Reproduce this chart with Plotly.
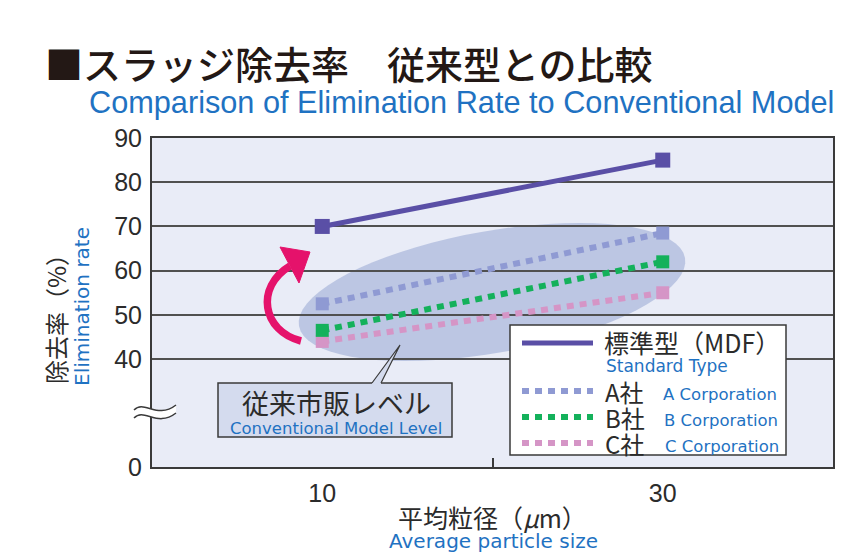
import math
import plotly.graph_objects as go

# ---------------- data ----------------
PARTICLE_SIZE = [10, 30]          # average particle size (µm)
MDF = [70, 85]                    # 標準型 (MDF)
CORP_A = [52.5, 68.5]             # A社
CORP_B = [46.5, 62]               # B社
CORP_C = [44, 55]                 # C社
X_TICK_VALUES = [10, 30]
X_TICK_LABELS = ["10", "30"]
Y_TICK_VALUES = [15.6, 40, 50, 60, 70, 80, 90]   # "0" sits below an axis break
Y_TICK_LABELS = ["0", "40", "50", "60", "70", "80", "90"]

# ---------------- styles ----------------
PURPLE = "#5a4fa6"
C_A = "#8f9ad3"
C_B = "#14b15b"
C_C = "#d595c6"
BLUE = "#1f72c2"
DARK = "#2b2b2b"
LINE = "#3a3a3a"
JP = "Noto Sans CJK JP"
EN = "Liberation Sans, Arial, sans-serif"
SM = "DejaVu Sans, sans-serif"
DASH = "7px,6px"

# window geometry (page body has an 8px margin)
OFF = 8
WIN_W, WIN_H = 868, 555
PLOT_L, PLOT_R, PLOT_T, PLOT_B = 152, 833, 138, 467   # plot area in window pixels
W, H = WIN_W - OFF, WIN_H - OFF
L = PLOT_L - OFF
T = PLOT_T - OFF
R = W - (PLOT_R - OFF)
B = H - (PLOT_B - OFF)
PW, PH = PLOT_R - PLOT_L, PLOT_B - PLOT_T


def fx(p):
    return (p - PLOT_L) / PW


def fy(p):
    return (PLOT_B - p) / PH


def P(x, y):
    return f"{fx(x):.5f},{fy(y):.5f}"


fig = go.Figure()
for vals, col, width, dash, msize in [
    (CORP_C, C_C, 6, DASH, 13),
    (CORP_B, C_B, 6, DASH, 13),
    (CORP_A, C_A, 6, DASH, 13),
    (MDF, PURPLE, 5, "solid", 15),
]:
    fig.add_trace(go.Scatter(
        x=PARTICLE_SIZE, y=vals, mode="lines+markers",
        line=dict(color=col, width=width, dash=dash),
        marker=dict(symbol="square", size=msize, color=col, line=dict(width=0)),
        showlegend=False, hoverinfo="skip"))

shapes = []
# ellipse (conventional level)
cx, cy, a, b, ang = 492, 292, 196, 61, math.radians(10)
pts = []
for i in range(73):
    t = 2 * math.pi * i / 72
    ex = a * math.cos(t)
    ey = b * math.sin(t)
    px_ = cx + ex * math.cos(ang) - ey * math.sin(ang)
    py_ = cy - (ex * math.sin(ang) + ey * math.cos(ang))
    pts.append(P(px_, py_))
shapes.append(dict(type="path", xref="paper", yref="paper", layer="below",
                   path="M " + " L ".join(pts) + " Z",
                   fillcolor="rgba(155,170,212,0.58)", line=dict(width=0)))

# curved arrow
ARROW = "#e5126b"
shapes.append(dict(type="path", xref="paper", yref="paper", layer="above",
                   path=f"M {P(301,341)} C {P(262,331)} {P(255,287)} {P(290,266)}",
                   line=dict(color=ARROW, width=7.5)))
shapes.append(dict(type="path", xref="paper", yref="paper", layer="above",
                   path=f"M {P(280,247)} L {P(310,252)} L {P(299,283)} Z",
                   fillcolor=ARROW, line=dict(color=ARROW, width=1)))

# axis break symbol
shapes.append(dict(type="path", xref="paper", yref="paper", layer="above",
                   path=f"M {P(134,410)} C {P(144,399)} {P(157,420)} {P(176,405)} "
                        f"L {P(176,413)} C {P(157,428)} {P(144,407)} {P(134,418)} Z",
                   fillcolor="white", line=dict(width=0)))
for dy in (0, 8):
    shapes.append(dict(type="path", xref="paper", yref="paper", layer="above",
                       path=f"M {P(134,410+dy)} C {P(144,399+dy)} {P(157,420+dy)} {P(176,405+dy)}",
                       line=dict(color=LINE, width=1.5)))

# callout box
CALLOUT_FILL = "#d4dbee"
shapes.append(dict(type="rect", xref="paper", yref="paper", layer="above",
                   x0=fx(218), x1=fx(452), y0=fy(383), y1=fy(437),
                   fillcolor=CALLOUT_FILL, line=dict(color=LINE, width=1.5)))
shapes.append(dict(type="path", xref="paper", yref="paper", layer="above",
                   path=f"M {P(372,385)} L {P(372,383)} L {P(400,345)} L {P(381,383)} L {P(381,385)} Z",
                   fillcolor=CALLOUT_FILL, line=dict(width=0)))
shapes.append(dict(type="path", xref="paper", yref="paper", layer="above",
                   path=f"M {P(372,383)} L {P(400,345)} L {P(381,383)}",
                   line=dict(color=LINE, width=1.2)))

# legend box
shapes.append(dict(type="rect", xref="paper", yref="paper", layer="above",
                   x0=fx(510), x1=fx(786), y0=fy(325), y1=fy(455),
                   fillcolor="white", line=dict(color=LINE, width=1.5)))
for yy, col, width, dash in [(343, PURPLE, 5, "solid"), (391, C_A, 6, DASH),
                             (417, C_B, 6, DASH), (443, C_C, 6, DASH)]:
    shapes.append(dict(type="line", xref="paper", yref="paper", layer="above",
                       x0=fx(522), x1=fx(593), y0=fy(yy), y1=fy(yy),
                       line=dict(color=col, width=width, dash=dash)))

annotations = []


def ann(text, x, y, size, color, family, xanchor="left", yanchor="middle", angle=0, weight=None):
    f = dict(size=size, color=color, family=family)
    if weight:
        f["weight"] = weight
    annotations.append(dict(text=text, x=fx(x), y=fy(y), xref="paper", yref="paper",
                            xanchor=xanchor, yanchor=yanchor, showarrow=False,
                            textangle=angle, font=f, borderpad=0))


ann("■スラッジ除去率　従来型との比較", 44, 62, 38, "#231815", JP, weight=500)
ann("Comparison of Elimination Rate to Conventional Model", 88, 103, 30.7, BLUE, EN)
ann("除去率（%）", 55, 313, 24, DARK, JP, xanchor="center", angle=-90)
ann("Elimination rate", 82, 307, 20, BLUE, SM, xanchor="center", angle=-90)
ann("平均粒径（<i>μ</i>m）", 492, 517, 25, DARK, JP, xanchor="center")
ann("Average particle size", 493, 541, 20, BLUE, SM, xanchor="center")
ann("従来市販レベル", 336, 402, 27, DARK, JP, xanchor="center")
ann("Conventional Model Level", 336, 428, 16.5, BLUE, SM, xanchor="center")
ann("標準型（MDF）", 603, 342, 25, DARK, JP)
ann("Standard Type", 605, 366, 17, BLUE, SM)
ann("A社", 604, 391, 24, DARK, JP)
ann("A Corporation", 662, 394, 16.5, BLUE, SM)
ann("B社", 604, 417, 24, DARK, JP)
ann("B Corporation", 663, 420, 16.5, BLUE, SM)
ann("C社", 604, 443, 24, DARK, JP)
ann("C Corporation", 664, 446, 16.5, BLUE, SM)

fig.update_layout(
    width=W, height=H,
    margin=dict(l=L, r=R, t=T, b=B, pad=0),
    paper_bgcolor="white", plot_bgcolor="#e9ecf7",
    shapes=shapes, annotations=annotations,
    showlegend=False,
    xaxis=dict(range=[0, 40], tickvals=X_TICK_VALUES, ticktext=X_TICK_LABELS,
               ticks="", showgrid=False, zeroline=False,
               showline=True, mirror=True, linecolor=LINE, linewidth=2,
               tickfont=dict(size=25, color=DARK, family=EN), ticklabelstandoff=3,
               minor=dict(tickmode="array", tickvals=[20], ticks="inside", ticklen=9,
                          tickcolor=LINE, tickwidth=1.5, showgrid=False)),
    yaxis=dict(range=[Y_TICK_VALUES[0], 90], tickvals=Y_TICK_VALUES, ticktext=Y_TICK_LABELS,
               ticks="", showgrid=True, gridcolor="#505050", gridwidth=1.5, zeroline=False,
               showline=True, mirror=True, linecolor=LINE, linewidth=2,
               tickfont=dict(size=25, color=DARK, family=EN), ticklabelstandoff=3),
)

fig.write_html("out.html")
